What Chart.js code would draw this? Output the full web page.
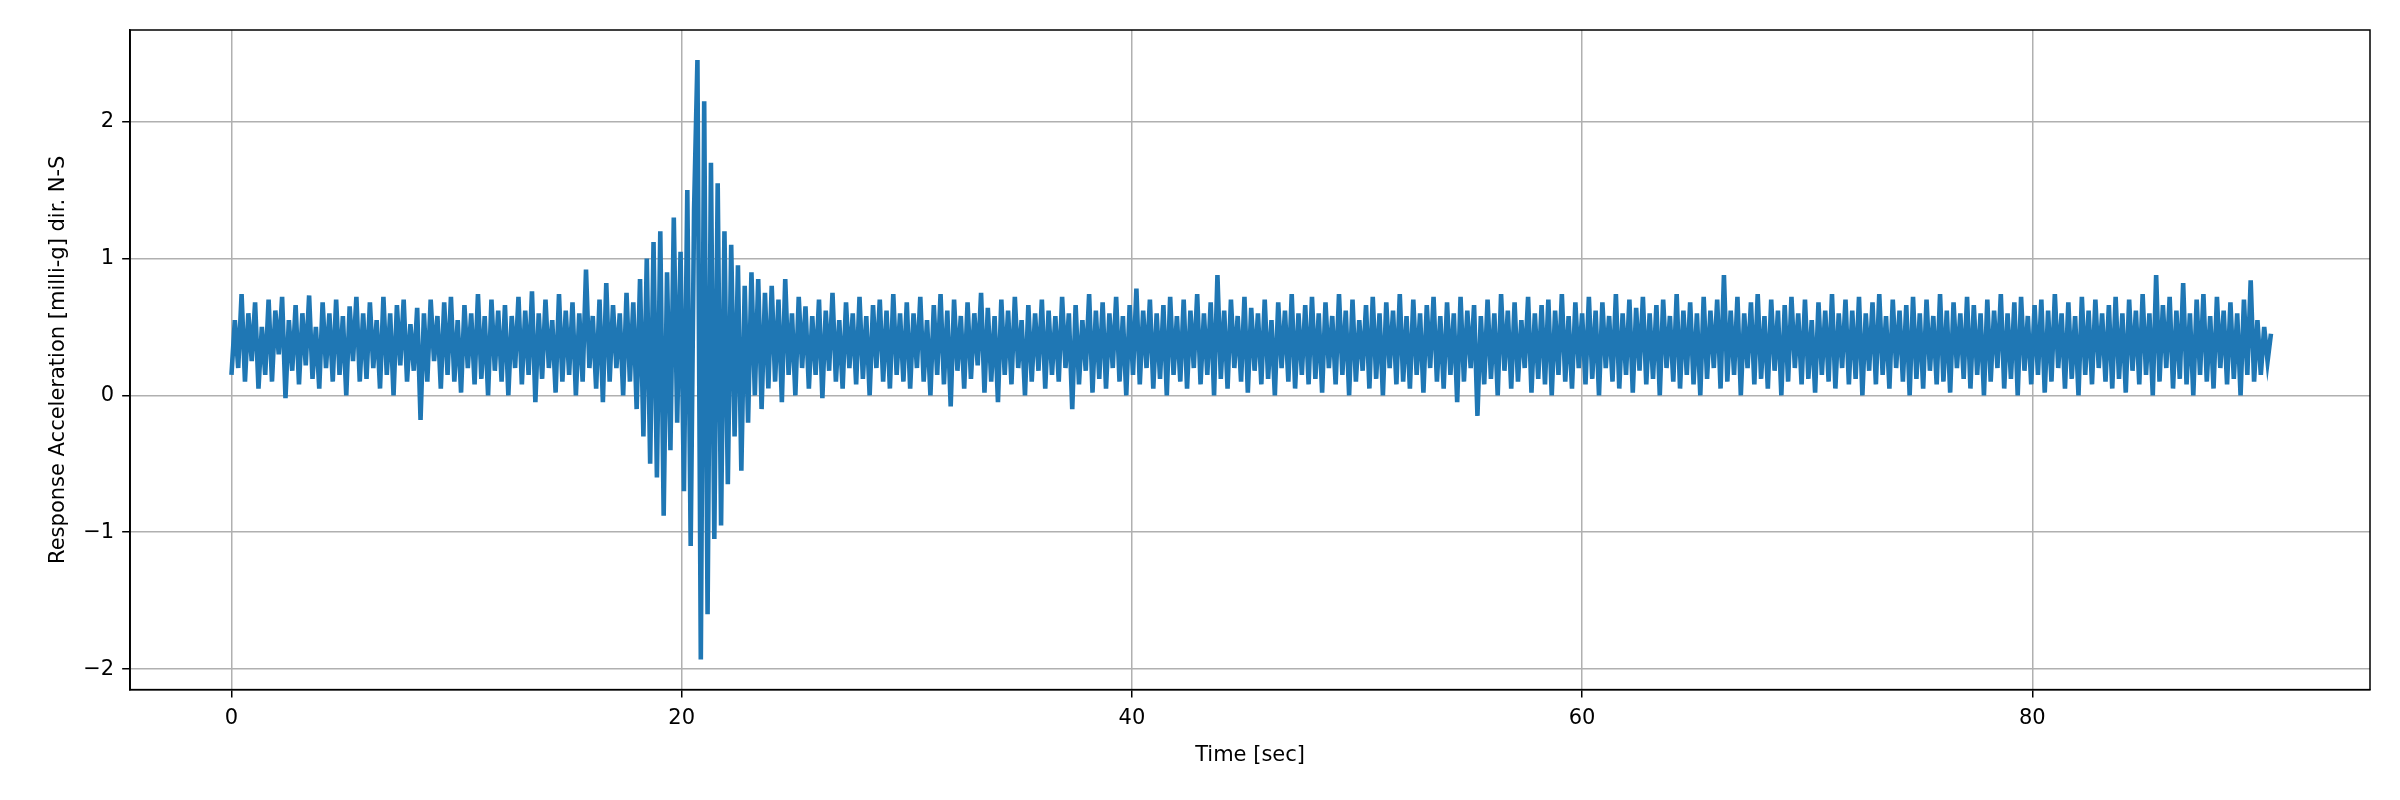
<!DOCTYPE html>
<html>
<head>
<meta charset="utf-8">
<script src="https://cdn.jsdelivr.net/npm/chart.js@4"></script>
<style>
  body { margin: 0; background: #fff; }
  canvas { display: block; }
</style>
</head>
<body>
<canvas id="chart" width="2400" height="800"></canvas>
<script>
// sample spacing of the traced signal, seconds
const timeStep = 0.15;

// response acceleration [milli-g], traced from the record, 6 s per row
const accel = [
  0.15,0.55,0.2,0.74,0.1,0.6,0.25,0.68,0.05,0.5,0.15,0.7,0.1,0.62,0.3,0.72,-0.02,0.55,0.18,0.66,0.08,0.6,0.22,0.73,0.12,0.5,0.05,0.68,0.2,0.6,0.1,0.7,0.15,0.58,0.0,0.65,0.25,0.72,0.1,0.6,
  0.12,0.68,0.2,0.55,0.05,0.72,0.15,0.6,0.0,0.66,0.22,0.7,0.1,0.52,0.18,0.64,-0.18,0.6,0.1,0.7,0.25,0.58,0.05,0.68,0.15,0.72,0.1,0.55,0.02,0.66,0.2,0.6,0.08,0.74,0.12,0.58,0.0,0.7,0.18,0.62,
  0.1,0.66,0.0,0.58,0.2,0.72,0.08,0.62,0.15,0.76,-0.05,0.6,0.12,0.7,0.2,0.55,0.02,0.74,0.1,0.62,0.15,0.68,0.0,0.6,0.1,0.92,0.2,0.58,0.05,0.7,-0.05,0.82,0.1,0.66,0.2,0.6,0.0,0.75,0.1,0.68,
  -0.1,0.85,-0.3,1.0,-0.5,1.12,-0.6,1.2,-0.88,0.9,-0.4,1.3,-0.2,1.05,-0.7,1.5,-1.1,1.35,2.45,-1.93,2.15,-1.6,1.7,-1.05,1.55,-0.95,1.2,-0.65,1.1,-0.3,0.95,-0.55,0.8,-0.2,0.9,0.0,0.85,-0.1,0.75,0.05,
  0.8,0.1,0.7,-0.05,0.85,0.15,0.6,0.0,0.72,0.2,0.65,0.05,0.58,0.15,0.7,-0.02,0.62,0.18,0.75,0.1,0.55,0.05,0.68,0.2,0.6,0.08,0.72,0.12,0.58,0.0,0.66,0.2,0.7,0.1,0.62,0.05,0.74,0.15,0.6,0.1,
  0.68,0.05,0.6,0.2,0.72,0.1,0.55,0.0,0.66,0.15,0.74,0.08,0.62,-0.08,0.7,0.18,0.58,0.05,0.68,0.12,0.6,0.22,0.75,0.02,0.64,0.1,0.58,-0.05,0.7,0.15,0.62,0.08,0.72,0.2,0.55,0.0,0.66,0.1,0.6,0.18,
  0.7,0.05,0.62,0.15,0.58,0.1,0.72,0.2,0.6,-0.1,0.66,0.08,0.55,0.18,0.74,0.02,0.62,0.12,0.68,0.05,0.6,0.2,0.72,0.1,0.58,0.0,0.66,0.15,0.78,0.08,0.62,0.2,0.7,0.05,0.6,0.12,0.66,0.0,0.72,0.15,
  0.58,0.1,0.7,0.05,0.62,0.2,0.74,0.08,0.6,0.15,0.68,0.0,0.88,0.12,0.62,0.05,0.7,0.2,0.58,0.1,0.72,0.02,0.64,0.18,0.6,0.08,0.7,0.12,0.55,0.0,0.68,0.2,0.62,0.1,0.74,0.05,0.6,0.15,0.66,0.08,
  0.72,0.12,0.6,0.02,0.68,0.2,0.58,0.08,0.74,0.15,0.62,0.0,0.7,0.1,0.55,0.18,0.66,0.05,0.72,0.12,0.6,0.0,0.68,0.2,0.62,0.08,0.74,0.1,0.58,0.05,0.7,0.15,0.6,0.02,0.66,0.2,0.72,0.1,0.58,0.05,
  0.68,0.15,0.6,-0.05,0.72,0.1,0.62,0.2,0.66,-0.15,0.58,0.08,0.7,0.12,0.6,0.0,0.74,0.18,0.62,0.05,0.68,0.1,0.55,0.2,0.72,0.02,0.6,0.12,0.66,0.08,0.7,0.0,0.62,0.15,0.74,0.1,0.58,0.05,0.68,0.2,
  0.6,0.08,0.72,0.12,0.62,0.0,0.68,0.2,0.58,0.1,0.74,0.05,0.6,0.15,0.7,0.02,0.64,0.18,0.72,0.08,0.6,0.12,0.66,0.0,0.7,0.2,0.58,0.1,0.74,0.05,0.62,0.15,0.68,0.08,0.6,0.0,0.72,0.12,0.62,0.2,
  0.7,0.05,0.88,0.1,0.62,0.15,0.72,0.0,0.6,0.2,0.68,0.08,0.74,0.12,0.58,0.05,0.7,0.18,0.62,0.0,0.66,0.1,0.72,0.2,0.6,0.08,0.7,0.12,0.55,0.02,0.68,0.15,0.62,0.1,0.74,0.05,0.6,0.2,0.7,0.08,
  0.62,0.12,0.72,0.0,0.6,0.18,0.68,0.08,0.74,0.15,0.58,0.05,0.7,0.2,0.62,0.1,0.66,0.0,0.72,0.12,0.6,0.05,0.7,0.18,0.58,0.08,0.74,0.1,0.62,0.02,0.68,0.2,0.6,0.12,0.72,0.05,0.66,0.15,0.6,0.0,
  0.7,0.1,0.62,0.2,0.74,0.05,0.6,0.12,0.68,0.0,0.72,0.18,0.58,0.08,0.66,0.15,0.7,0.02,0.62,0.1,0.74,0.2,0.6,0.05,0.68,0.12,0.58,0.0,0.72,0.15,0.62,0.08,0.7,0.2,0.6,0.1,0.66,0.05,0.72,0.12,
  0.6,0.02,0.7,0.18,0.62,0.08,0.74,0.15,0.6,0.0,0.88,0.1,0.66,0.2,0.72,0.05,0.62,0.12,0.82,0.08,0.6,0.0,0.7,0.15,0.74,0.1,0.58,0.05,0.72,0.2,0.62,0.08,0.68,0.12,0.6,0.0,0.7,0.15,0.84,0.1,
  0.55,0.15,0.5,0.25,0.45
];

const xTicks = [0, 20, 40, 60, 80];
const yTicks = [-2, -1, 0, 1, 2];

const points = accel.map((v, i) => ({ x: +(i * timeStep).toFixed(2), y: v }));

const font = { family: 'DejaVu Sans', size: 21 };
const gridColor = '#b0b0b0';

new Chart(document.getElementById('chart').getContext('2d'), {
  type: 'line',
  data: {
    datasets: [{
      data: points,
      borderColor: '#1f77b4',
      borderWidth: 4.6,
      pointRadius: 0,
      fill: false,
      tension: 0
    }]
  },
  options: {
    responsive: false,
    animation: false,
    devicePixelRatio: 1,
    layout: { padding: { left: 42, right: 30, top: 30, bottom: 28 } },
    plugins: { legend: { display: false }, tooltip: { enabled: false } },
    scales: {
      x: {
        type: 'linear',
        min: -4.5,
        max: 95,
        afterBuildTicks: s => { s.ticks = xTicks.map(v => ({ value: v })); },
        ticks: { font, color: '#000', padding: 8, maxRotation: 0 },
        grid: { color: gridColor, lineWidth: 1.5, tickLength: 8, tickColor: '#000' },
        border: { color: '#000', width: 1.5 },
        title: { display: true, text: 'Time [sec]', font, color: '#000', padding: { top: 4 } }
      },
      y: {
        min: -2.15,
        max: 2.67,
        afterBuildTicks: s => { s.ticks = yTicks.map(v => ({ value: v })); },
        ticks: { font, color: '#000', padding: 8, callback: v => v < 0 ? '\u2212' + Math.abs(v) : v },
        grid: { color: gridColor, lineWidth: 1.5, tickLength: 8, tickColor: '#000' },
        border: { color: '#000', width: 1.5 },
        title: { display: true, text: 'Response Acceleration [milli-g] dir. N-S', font, color: '#000' }
      }
    }
  },
  plugins: [{
    id: 'frame',
    afterDraw(c) {
      const a = c.chartArea, ctx = c.ctx;
      ctx.save();
      ctx.strokeStyle = '#000';
      ctx.lineWidth = 1.5;
      ctx.strokeRect(a.left, a.top, a.right - a.left, a.bottom - a.top);
      ctx.restore();
    }
  }]
});
</script>
</body>
</html>
